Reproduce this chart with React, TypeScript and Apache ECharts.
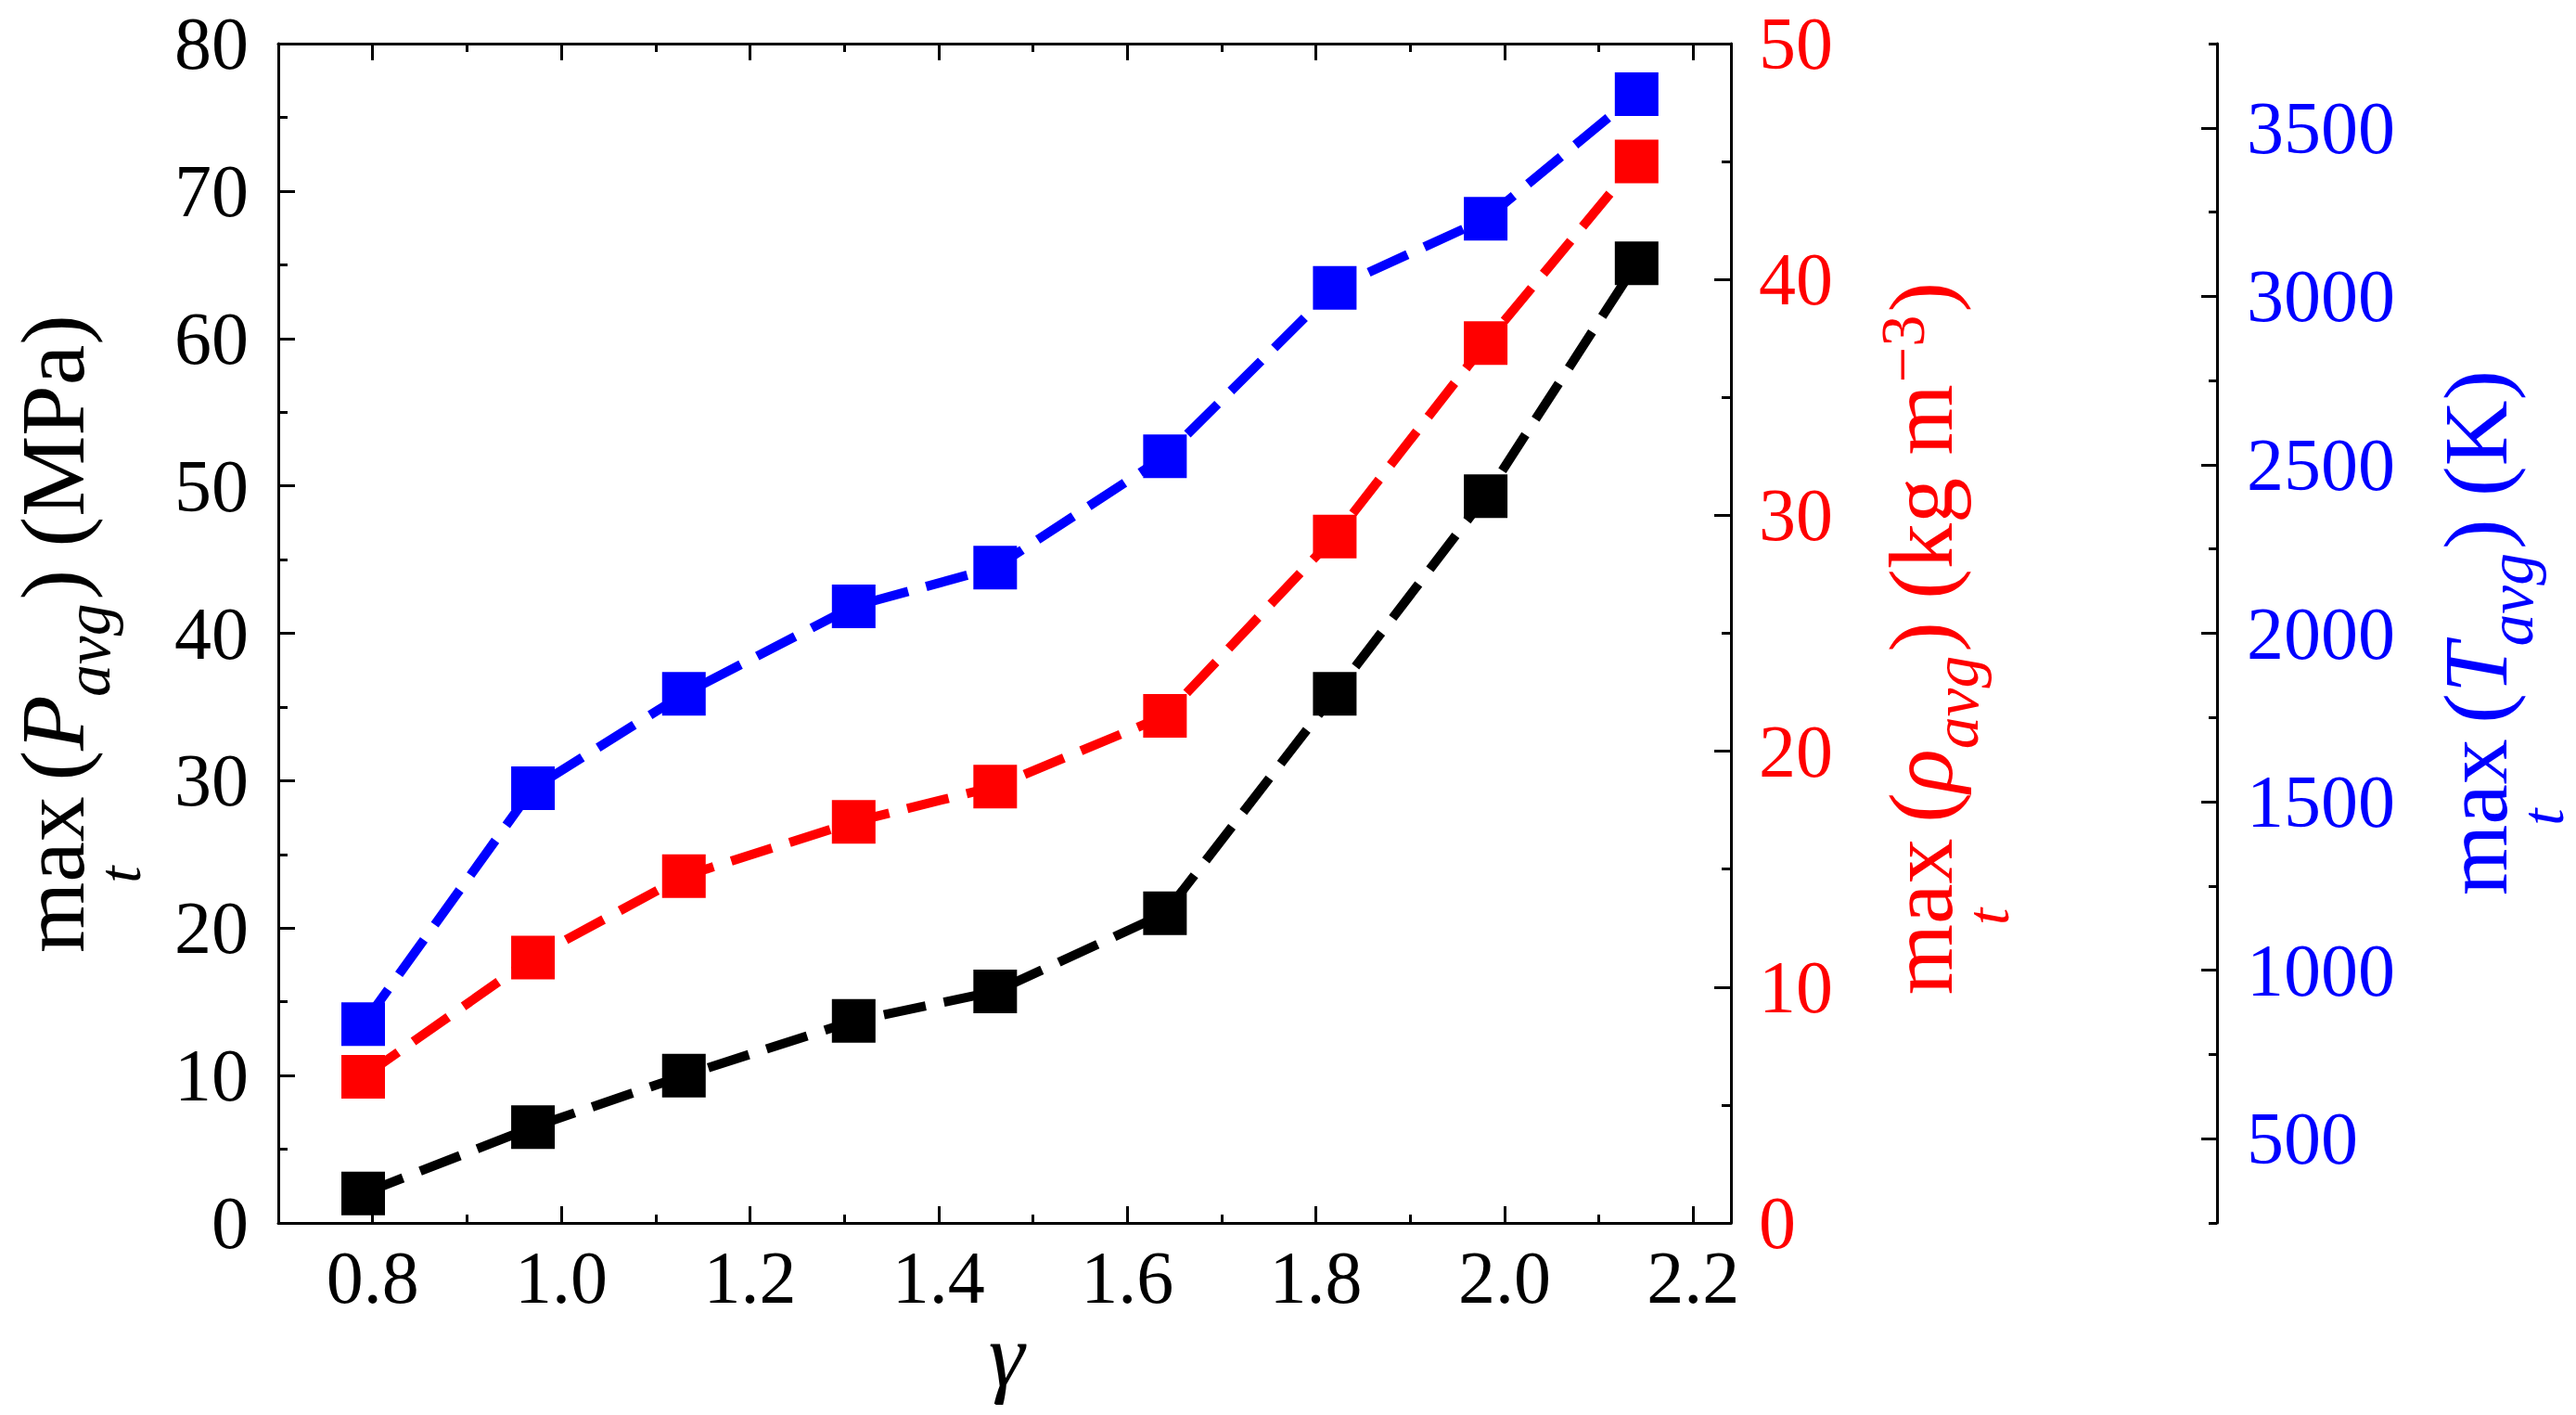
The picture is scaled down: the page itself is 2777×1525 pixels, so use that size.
import React, { useEffect, useRef } from 'react';
import * as echarts from 'echarts';

// ---- data ----
const gamma = [0.79, 0.97, 1.13, 1.31, 1.46, 1.64, 1.82, 1.98, 2.14];
const pressureMPa = [2.0, 6.5, 10.0, 13.7, 15.7, 21.0, 35.9, 49.3, 65.1];
const densityKgM3 = [6.2, 11.25, 14.7, 17.0, 18.5, 21.5, 29.1, 37.3, 45.0];
const temperatureK = [840, 1540, 1820, 2080, 2195, 2525, 3025, 3230, 3600];

const xMajorTicks = [0.8, 1.0, 1.2, 1.4, 1.6, 1.8, 2.0, 2.2];
const xMinorTicks = [0.9, 1.1, 1.3, 1.5, 1.7, 1.9, 2.1];
const tMajorTicks = [500, 1000, 1500, 2000, 2500, 3000, 3500];
const tMinorTicks = [250, 750, 1250, 1750, 2250, 2750, 3250, 3750];

const FF = '"Liberation Serif", "Times New Roman", Times, serif';
const BLACK = '#000000';
const RED = '#ff0000';
const BLUE = '#0000ff';

let measureCtx: CanvasRenderingContext2D | null = null;
function measure(text: string, size: number, italic: boolean): number {
  if (!measureCtx) measureCtx = document.createElement('canvas').getContext('2d');
  if (!measureCtx) return text.length * size * 0.5;
  measureCtx.font = `${italic ? 'italic ' : ''}${size}px ${FF}`;
  return measureCtx.measureText(text).width;
}

type Piece = { t: string; s: number; it?: boolean; dy?: number; gap?: number };

function buildTitle(pieces: Piece[], color: string, baseX: number, centerY: number, F: number) {
  const items: { x: number; y: number; size: number; it: boolean; t: string; align: string }[] = [];
  let pos = 0;
  let maxCenter = 0;
  pieces.forEach((p, i) => {
    pos += (p.gap ?? 0) * F;
    const size = p.s * F;
    const w = measure(p.t, size, !!p.it);
    const baseline = (p.dy ?? 0) * F;
    items.push({ x: pos, y: baseline - 0.3375 * size, size, it: !!p.it, t: p.t, align: 'left' });
    if (i === 0) maxCenter = pos + w / 2;
    pos += w;
  });
  const tSize = 0.67 * F;
  items.push({ x: maxCenter, y: 0.62 * F - 0.3375 * tSize, size: tSize, it: true, t: 't', align: 'center' });
  const L = pos;
  return {
    type: 'group',
    x: baseX,
    y: centerY,
    rotation: Math.PI / 2,
    children: items.map((it) => ({
      type: 'text',
      x: it.x - L / 2,
      y: it.y,
      style: {
        text: it.t,
        fontSize: it.size,
        fontFamily: FF,
        fontStyle: it.it ? 'italic' : 'normal',
        fill: color,
        align: it.align,
        verticalAlign: 'middle',
      },
    })),
  };
}

function buildOption() {
  const F = 98;
  const tickLine = { color: BLACK, width: 3 };
  const labelBase = { fontFamily: FF, fontSize: 80 };

  const leftTitle = buildTitle(
    [
      { t: 'max', s: 1 },
      { t: '(', s: 1, gap: 0.17 },
      { t: 'P', s: 1, it: true },
      { t: 'avg', s: 0.71, it: true, dy: 0.29, gap: -0.02 },
      { t: ')', s: 1, gap: 0.04 },
      { t: '(MPa)', s: 1, gap: 0.25 },
    ],
    BLACK, 90, 683, F
  );
  const redTitle = buildTitle(
    [
      { t: 'max', s: 1 },
      { t: '(', s: 1, gap: 0.17 },
      { t: 'ρ', s: 1, it: true },
      { t: 'avg', s: 0.71, it: true, dy: 0.29, gap: 0.0 },
      { t: ')', s: 1, gap: 0.04 },
      { t: '(kg m', s: 1, gap: 0.25 },
      { t: '−3', s: 0.7, dy: -0.3, gap: 0.02 },
      { t: ')', s: 1, gap: 0.03 },
    ],
    RED, 2104, 688, F
  );
  const blueTitle = buildTitle(
    [
      { t: 'max', s: 1 },
      { t: '(', s: 1, gap: 0.17 },
      { t: 'T', s: 1, it: true },
      { t: 'avg', s: 0.71, it: true, dy: 0.29, gap: -0.04 },
      { t: ')', s: 1, gap: 0.04 },
      { t: '(K)', s: 1, gap: 0.25 },
    ],
    BLUE, 2702, 682, F
  );

  const hiddenAxisBits = {
    axisLine: { show: false },
    axisLabel: { show: false },
    splitLine: { show: false },
  };

  const seriesCommon = {
    type: 'line',
    symbol: 'rect',
    symbolSize: 47,
    xAxisIndex: 0,
  };
  const dash = [46, 20];

  return {
    animation: false,
    backgroundColor: '#ffffff',
    grid: { left: 300, top: 47, width: 1566, height: 1271, containLabel: false },
    xAxis: [
      {
        type: 'value', position: 'bottom', min: 0.7, max: 2.24,
        axisLine: { show: true, onZero: false, lineStyle: tickLine },
        axisTick: { show: true, inside: true, length: 18, lineStyle: tickLine, customValues: xMajorTicks },
        axisLabel: {
          ...labelBase, color: BLACK, margin: 19, customValues: xMajorTicks,
          formatter: (v: number) => v.toFixed(1),
        },
        splitLine: { show: false },
      },
      {
        type: 'value', position: 'bottom', min: 0.7, max: 2.24,
        ...hiddenAxisBits,
        axisLine: { show: false, onZero: false },
        axisTick: { show: true, inside: true, length: 9, lineStyle: tickLine, customValues: xMinorTicks },
      },
      {
        type: 'value', position: 'top', min: 0.7, max: 2.24,
        axisLine: { show: true, onZero: false, lineStyle: tickLine },
        axisTick: { show: true, inside: true, length: 18, lineStyle: tickLine, customValues: xMajorTicks },
        axisLabel: { show: false },
        splitLine: { show: false },
      },
      {
        type: 'value', position: 'top', min: 0.7, max: 2.24,
        ...hiddenAxisBits,
        axisLine: { show: false, onZero: false },
        axisTick: { show: true, inside: true, length: 9, lineStyle: tickLine, customValues: xMinorTicks },
      },
    ],
    yAxis: [
      {
        type: 'value', position: 'left', min: 0, max: 80, interval: 10,
        axisLine: { show: true, onZero: false, lineStyle: tickLine },
        axisTick: { show: true, inside: true, length: 18, lineStyle: tickLine },
        minorTick: { show: true, splitNumber: 2, length: 10, lineStyle: tickLine },
        axisLabel: { ...labelBase, color: BLACK, margin: 32, formatter: (v: number) => String(v) },
        splitLine: { show: false },
      },
      {
        type: 'value', position: 'right', min: 0, max: 50, interval: 10,
        axisLine: { show: true, onZero: false, lineStyle: tickLine },
        axisTick: { show: true, inside: true, length: 18, lineStyle: tickLine },
        minorTick: { show: true, splitNumber: 2, length: 10, lineStyle: tickLine },
        axisLabel: { ...labelBase, color: RED, margin: 30, formatter: (v: number) => String(v) },
        splitLine: { show: false },
      },
      {
        type: 'value', position: 'right', offset: 524, min: 250, max: 3750,
        axisLine: { show: true, onZero: false, lineStyle: tickLine },
        axisTick: { show: true, inside: true, length: 17, lineStyle: tickLine, customValues: tMajorTicks },
        axisLabel: {
          ...labelBase, color: BLUE, margin: 32, customValues: tMajorTicks,
          formatter: (v: number) => String(Math.round(v)),
        },
        splitLine: { show: false },
      },
      {
        type: 'value', position: 'right', offset: 524, min: 250, max: 3750,
        ...hiddenAxisBits,
        axisLine: { show: false, onZero: false },
        axisTick: { show: true, inside: true, length: 9, lineStyle: tickLine, customValues: tMinorTicks },
      },
    ],
    graphic: [
      leftTitle,
      redTitle,
      blueTitle,
      {
        type: 'text',
        x: 1085,
        y: 1460,
        style: {
          text: 'γ', fontSize: 98, fontFamily: FF, fontStyle: 'italic', fill: BLACK,
          align: 'center', verticalAlign: 'middle',
        },
      },
    ],
    series: [
      {
        ...seriesCommon,
        name: 'pressure',
        yAxisIndex: 0,
        data: gamma.map((g, i) => [g, pressureMPa[i]]),
        itemStyle: { color: BLACK },
        lineStyle: { color: BLACK, width: 10, type: dash },
      },
      {
        ...seriesCommon,
        name: 'density',
        yAxisIndex: 1,
        data: gamma.map((g, i) => [g, densityKgM3[i]]),
        itemStyle: { color: RED },
        lineStyle: { color: RED, width: 10, type: dash },
      },
      {
        ...seriesCommon,
        name: 'temperature',
        yAxisIndex: 2,
        data: gamma.map((g, i) => [g, temperatureK[i]]),
        itemStyle: { color: BLUE },
        lineStyle: { color: BLUE, width: 10, type: dash },
      },
    ],
  };
}

export default function App() {
  const ref = useRef<HTMLDivElement>(null);
  useEffect(() => {
    if (!ref.current) return;
    const chart = echarts.init(ref.current, null, { renderer: 'svg' });
    chart.setOption(buildOption() as any);
    return () => chart.dispose();
  }, []);
  return (
    <div
      ref={ref}
      style={{ position: 'fixed', left: 0, top: 0, width: 2777, height: 1525, background: '#ffffff' }}
    />
  );
}
